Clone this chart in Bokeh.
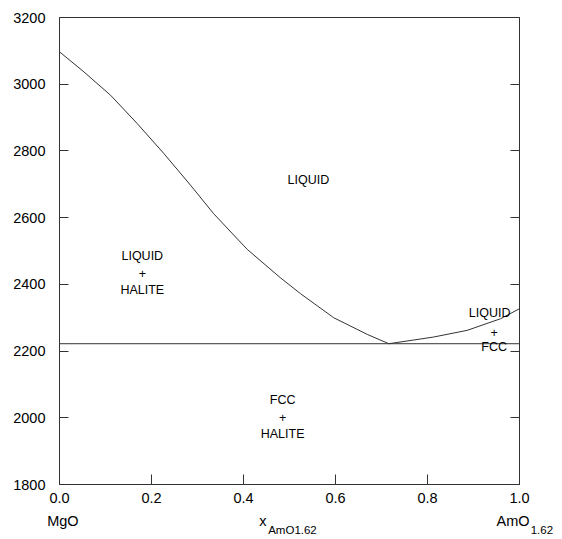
from bokeh.plotting import figure
from bokeh.models import Range1d, LinearAxis, FixedTicker, NumeralTickFormatter
from bokeh.core.properties import value
from bokeh.embed import file_html
from bokeh.resources import INLINE

# Liquidus (HALITE side) from MgO to eutectic
liq_left_x = [0.0, 0.053, 0.111, 0.169, 0.227, 0.285, 0.335, 0.408, 0.480, 0.524, 0.596, 0.669, 0.716]
liq_left_T = [3097, 3037, 2967, 2882, 2792, 2697, 2612, 2505, 2420, 2372, 2300, 2250, 2222]
# Liquidus (FCC side) from eutectic to AmO1.62
liq_right_x = [0.716, 0.813, 0.886, 0.959, 1.0]
liq_right_T = [2222, 2242, 2262, 2297, 2327]
# Eutectic isotherm
eut_x = [0.0, 1.0]
eut_T = [2222, 2222]

# Region labels
region_text = ["LIQUID", "LIQUID", "+", "HALITE", "FCC", "+", "HALITE", "LIQUID", "+", "FCC"]
region_x = [0.541, 0.18, 0.18, 0.18, 0.485, 0.485, 0.485, 0.935, 0.945, 0.945]
region_T = [2712, 2484, 2432, 2384, 2052, 2001, 1950, 2313, 2256, 2211]

x_ticks = [0.0, 0.2, 0.4, 0.6, 0.8, 1.0]
y_ticks = [1800, 2000, 2200, 2400, 2600, 2800, 3000, 3200]

# Composition labels under the axis: main text and subscripts
comp_main = ["MgO", "x", "AmO"]
comp_main_x = [0.0074, 0.442, 0.986]
comp_sub = ["AmO1.62", "1.62"]
comp_sub_x = [0.5065, 1.0]

FONT = "Liberation Sans"
LC = "#333333"
NB = "\u00a0"

p = figure(frame_width=460, frame_height=467, output_backend="svg", toolbar_location=None,
           x_range=Range1d(0, 1), y_range=Range1d(1800, 3200),
           min_border_left=59, min_border_right=43, min_border_top=17, min_border_bottom=55,
           x_axis_type=None, y_axis_type=None)
p.grid.visible = False
p.outline_line_color = LC
p.outline_line_width = 1

xa = LinearAxis(ticker=FixedTicker(ticks=x_ticks), formatter=NumeralTickFormatter(format="0.0"))
ya = LinearAxis(ticker=FixedTicker(ticks=y_ticks))
ra = LinearAxis(ticker=FixedTicker(ticks=y_ticks),
                major_label_overrides={t: "" for t in y_ticks})
for ax in (xa, ya, ra):
    ax.major_tick_in = 9
    ax.major_tick_out = 0
    ax.minor_tick_in = 0
    ax.minor_tick_out = 0
    ax.axis_line_color = LC
    ax.major_tick_line_color = LC
    ax.major_label_text_font = FONT
    ax.major_label_text_color = "black"
    ax.major_label_text_font_size = "14.5px"
xa.major_tick_in = 10
xa.major_label_standoff = 8
ya.major_label_standoff = 14
ra.major_label_standoff = 0
p.add_layout(xa, "below")
p.add_layout(ya, "left")
p.add_layout(ra, "right")

def label_axis(ticks, texts, size, standoff):
    ax = LinearAxis(ticker=FixedTicker(ticks=ticks),
                    major_label_overrides=dict(zip(ticks, texts)),
                    axis_line_color=None, major_tick_line_color=None, minor_tick_line_color=None,
                    major_tick_in=0, major_tick_out=0, minor_tick_in=0, minor_tick_out=0,
                    major_label_text_font=FONT, major_label_text_font_size=size,
                    major_label_text_color="black", major_label_standoff=standoff)
    p.add_layout(ax, "below")
    return ax

label_axis(comp_main_x, comp_main, "14.5px", 7)
label_axis(comp_sub_x, [comp_sub[0], NB * 14 + comp_sub[1]], "11.5px", -8)

p.line(liq_left_x, liq_left_T, line_color=LC, line_width=1)
p.line(liq_right_x, liq_right_T, line_color=LC, line_width=1)
p.line(eut_x, eut_T, line_color=LC, line_width=1)

p.text(region_x, region_T, text=region_text, text_font=value(FONT), text_font_size="12.5px",
       text_align="center", text_baseline="middle", text_color="black")

open("out.html", "w").write(file_html(p, INLINE))
